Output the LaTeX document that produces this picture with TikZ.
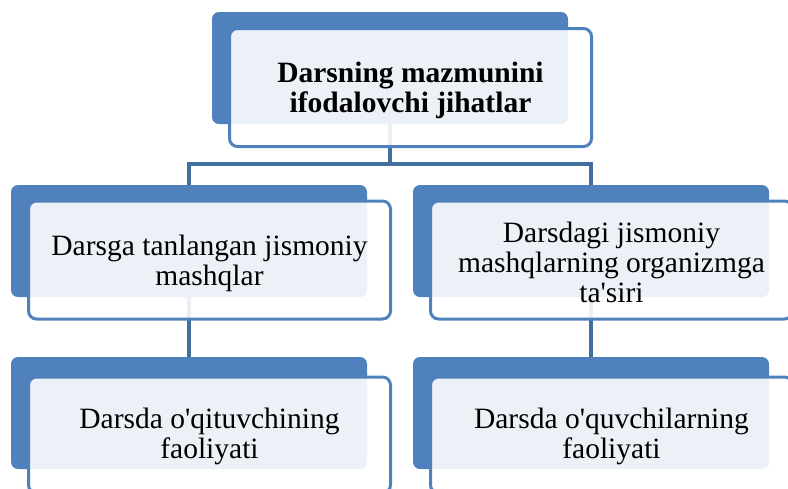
\documentclass[tikz,border=0pt]{standalone}
\usepackage{fontspec}
\setmainfont{Liberation Serif}[Ligatures=TeXOff]
\usetikzlibrary{backgrounds}
\definecolor{smblue}{HTML}{4F81BD}
\definecolor{conblue}{HTML}{41709F}
\tikzset{
  backbox/.style={rectangle, rounded corners=7pt, fill=smblue, inner sep=0pt,
    minimum width=356pt, minimum height=112pt},
  frontbox/.style={rectangle, rounded corners=8pt, draw=smblue, line width=3pt,
    fill=white, fill opacity=0.89, inner sep=0pt,
    minimum width=362pt, minimum height=118pt},
  txt/.style={align=center, inner sep=0pt, font=\fontsize{29.5}{30}\selectfont},
  conn/.style={draw=conblue, line width=4pt}
}
\begin{document}
\begin{tikzpicture}[x=1pt, y=-1pt]
\useasboundingbox (0,0) rectangle (788,488);
\clip (0,0) rectangle (788,488);
% back boxes
\node[backbox] (b1) at (390,68) {};
\node[backbox] (b2) at (189,241) {};
\node[backbox] (b3) at (591,241) {};
\node[backbox] (b4) at (189,413) {};
\node[backbox] (b5) at (591,413) {};
% connectors behind
\begin{scope}[on background layer]
\draw[conn] (b1.south) -- ++(0,40) -| (b2.north);
\draw[conn] (b1.south) -- ++(0,40) -| (b3.north);
\draw[conn] (b2.south) -- (b4.north);
\draw[conn] (b3.south) -- (b5.north);
\end{scope}
% front boxes
\node[frontbox] (f1) at (410.5,87.5) {};
\node[frontbox] (f2) at (209.5,260) {};
\node[frontbox] (f3) at (611.5,260) {};
\node[frontbox, minimum height=116pt] (f4) at (209.5,435) {};
\node[frontbox, minimum height=116pt] (f5) at (611.5,435) {};
% texts
\node[txt, font=\fontsize{29.5}{30}\selectfont\bfseries] (t1) at ([yshift=-3pt]f1.center)
  {Darsning mazmunini\\ifodalovchi jihatlar};
\node[txt] (t2) at ([yshift=-3.5pt]f2.center) {Darsga tanlangan jismoniy\\mashqlar};
\node[txt] (t3) at ([yshift=-2.5pt]f3.center) {Darsdagi jismoniy\\mashqlarning organizmga\\ta'siri};
\node[txt] (t4) at ([yshift=-1pt]f4.center) {Darsda o'qituvchining\\faoliyati};
\node[txt] (t5) at ([yshift=-1pt]f5.center) {Darsda o'quvchilarning\\faoliyati};
\end{tikzpicture}
\end{document}
